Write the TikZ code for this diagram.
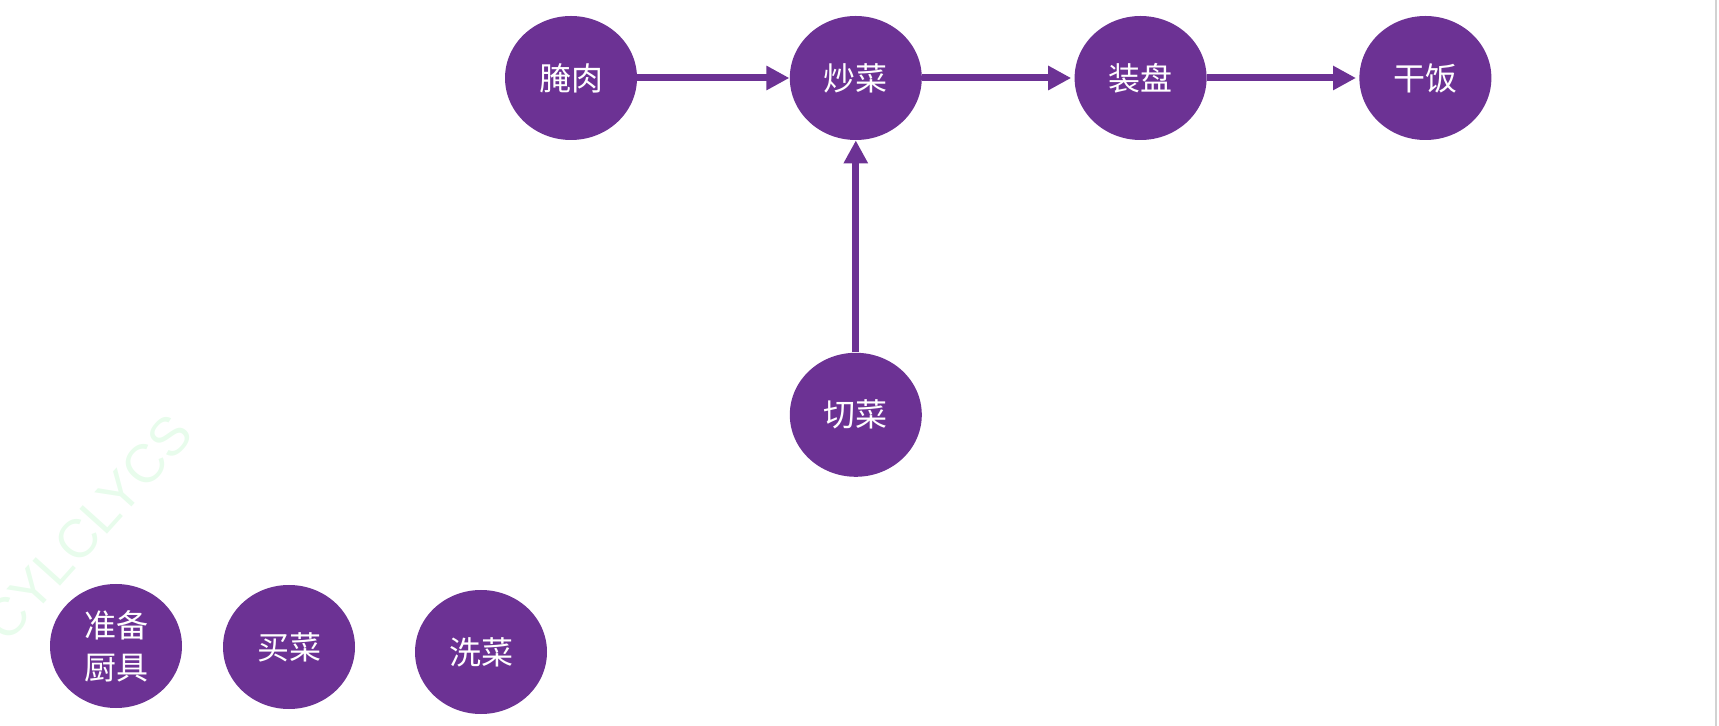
\documentclass[tikz,border=0pt]{standalone}
\usepackage{fontspec}
\setsansfont{Liberation Sans}
\newfontfamily\cjk{Noto Sans CJK SC}
\usetikzlibrary{arrows.meta,positioning,shapes.geometric}
\definecolor{dishpurple}{RGB}{108,50,148}
\definecolor{wmarkcol}{RGB}{232,252,236}

\begin{document}
\begin{tikzpicture}[x=0.5pt,y=-0.5pt,font=\cjk\fontsize{16}{21}\selectfont,
  node distance=76pt and 76pt,>={Triangle[length=11.5pt,width=11.5pt]},
  task/.style={ellipse,fill=dishpurple,text=white,align=center,
    minimum width=66pt,minimum height=62pt,inner sep=0pt},
  flow/.style={->,draw=dishpurple,line width=3.5pt}]
  \useasboundingbox (0,0) rectangle (1719,726);
  \node[rotate=48,text=wmarkcol,font=\sffamily\fontsize{27}{27}\selectfont] (wmark) at (88,528) {CYLCLYCS};
  \draw[gray!35,line width=1pt] (1716,0) -- (1716,726);
  % top row
  \node[task] (yan) at (571,78) {腌肉};
  \node[task,right=of yan] (chao) {炒菜};
  \node[task,right=of chao] (zhuang) {装盘};
  \node[task,right=of zhuang] (gan) {干饭};
  \node[task,below=106pt of chao] (qie) {切菜};
  % bottom row
  \node[task] (zhunbei) at (116,646) {准备\\厨具};
  \node[task] (mai) at (289,647) {买菜};
  \node[task] (xi) at (481,652) {洗菜};
  \draw[flow] (yan) -- (chao);
  \draw[flow,shorten >=1.5pt] (chao) -- (zhuang);
  \draw[flow,shorten >=1.5pt] (zhuang) -- (gan);
  \draw[flow] (qie) -- (chao);
\end{tikzpicture}
\end{document}
